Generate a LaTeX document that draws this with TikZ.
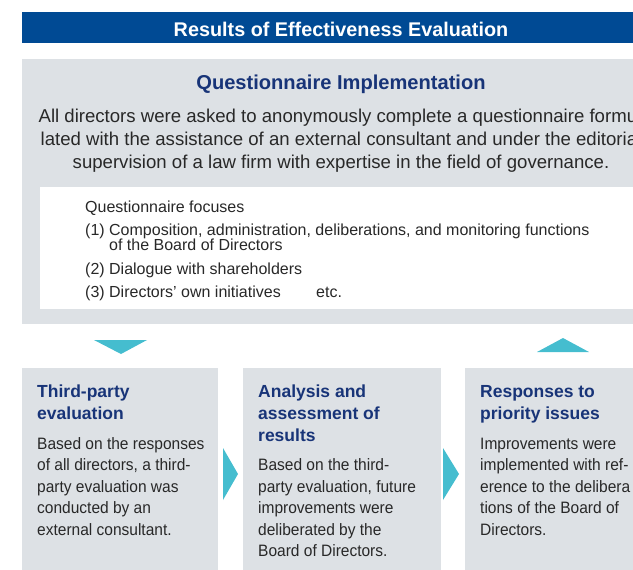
\documentclass[tikz,border=0pt]{standalone}
\usepackage{fontspec}
\setmainfont{Liberation Sans}
\newfontfamily\bodyf{Liberation Sans}[FakeStretch=0.94]
\definecolor{barblue}{RGB}{0,74,148}
\definecolor{panel}{RGB}{221,225,229}
\definecolor{cyanarrow}{RGB}{69,189,207}
\definecolor{hd}{RGB}{24,52,120}
\definecolor{tx}{RGB}{40,40,40}
\tikzset{
  titletxt/.style={font=\bfseries\fontsize{19.8}{24}\selectfont, text=white, inner sep=0},
  qitxt/.style={font=\bfseries\fontsize{20.1}{24}\selectfont, text=hd, inner sep=0},
  paratxt/.style={font=\fontsize{18.6}{23}\selectfont, text=tx, inner sep=0},
  focustxt/.style={font=\fontsize{16}{20}\selectfont, text=tx, inner sep=0},
  headtxt/.style={font=\bfseries\fontsize{17.5}{22}\selectfont, text=hd, inner sep=0},
  bodytxt/.style={font=\bodyf\fontsize{16.5}{21.6}\selectfont, text=tx, inner sep=0},
  panelbox/.style={fill=panel, draw=none, inner sep=0},
  arrowtri/.style={fill=cyanarrow, draw=none},
}
% #1 name prefix, #2 style, #3 anchor, #4 x, #5 first baseline, #6 spacing, #7 list
\newcommand{\txtlines}[7]{%
  \foreach \t [count=\i from 0] in {#7}{%
    \node[#2, anchor=#3] (#1\i) at (#4, #5+\i*#6) {\t};
  }%
}
\begin{document}
\begin{tikzpicture}[x=1pt,y=-1pt]
\useasboundingbox (0,0) rectangle (633,570);
\clip (0,0) rectangle (633,570);
% title bar
\fill[barblue] (22,12) rectangle (645,43);
\node[titletxt, anchor=base] (title) at (341,36) {Results of Effectiveness Evaluation};
% questionnaire panel
\fill[panel] (22,59) rectangle (645,324);
\node[qitxt, anchor=base] (qi) at (341,89) {Questionnaire Implementation};
\txtlines{para}{paratxt}{base}{341}{122.5}{23}{%
  {All directors were asked to anonymously complete a questionnaire formu-},
  {lated with the assistance of an external consultant and under the editorial},
  {supervision of a law firm with expertise in the field of governance.}}
\fill[white] (40,187) rectangle (645,309);
\node[focustxt, anchor=base west] (fq) at (85,212) {Questionnaire focuses};
\node[focustxt, anchor=base west] (f1) at (85,235) {(1) Composition, administration, deliberations, and monitoring functions};
\node[focustxt, anchor=base west] (f1b) at (109,250) {of the Board of Directors};
\node[focustxt, anchor=base west] (f2) at (85,274) {(2) Dialogue with shareholders};
\node[focustxt, anchor=base west] (f3) at (85,297) {(3) Directors’ own initiatives};
\node[focustxt, anchor=base west] (fetc) at (316,297) {etc.};
% triangles between panel and step boxes
\fill[arrowtri] (94,340) -- (147,340) -- (121,354) -- cycle;
\fill[arrowtri] (537,352) -- (589,352) -- (563,338) -- cycle;
% step boxes
\node[panelbox, minimum width=196pt, minimum height=210pt, anchor=north west] (box1) at (22,368) {};
\node[panelbox, minimum width=198pt, minimum height=210pt, anchor=north west] (box2) at (243,368) {};
\node[panelbox, minimum width=180pt, minimum height=210pt, anchor=north west] (box3) at (465,368) {};
% chevrons
\fill[arrowtri] (223,448) -- (238,474) -- (223,500) -- cycle;
\fill[arrowtri] (443,448) -- (459,474) -- (443,500) -- cycle;
% box 1
\txtlines{hA}{headtxt}{base west}{37}{397}{22}{{Third-party},{evaluation}}
\txtlines{bA}{bodytxt}{base west}{37}{449}{21.6}{%
  {Based on the responses},
  {of all directors, a third-},
  {party evaluation was},
  {conducted by an},
  {external consultant.}}
% box 2
\txtlines{hB}{headtxt}{base west}{258}{397}{22}{{Analysis and},{assessment of},{results}}
\txtlines{bB}{bodytxt}{base west}{258}{470.5}{21.6}{%
  {Based on the third-},
  {party evaluation, future},
  {improvements were},
  {deliberated by the},
  {Board of Directors.}}
% box 3
\txtlines{hC}{headtxt}{base west}{480}{397}{22}{{Responses to},{priority issues}}
\txtlines{bC}{bodytxt}{base west}{480}{449}{21.6}{%
  {Improvements were},
  {implemented with ref-},
  {erence to the delibera},
  {tions of the Board of},
  {Directors.}}
\end{tikzpicture}
\end{document}
